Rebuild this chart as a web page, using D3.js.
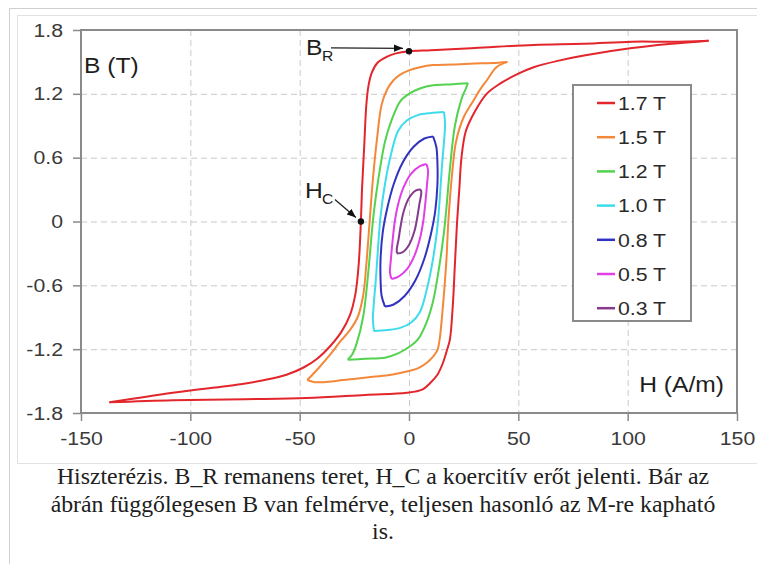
<!DOCTYPE html>
<html>
<head>
<meta charset="utf-8">
<script src="https://cdn.jsdelivr.net/npm/d3@7"></script>
<style>
  body { margin: 0; background: #fff; }
  svg { display: block; }
</style>
</head>
<body>
<div id="chart"></div>
<script>
// Data: H (A/m), B (T)
const seriesNames = ["1.7 T", "1.5 T", "1.2 T", "1.0 T", "0.8 T", "0.5 T", "0.3 T"];
const seriesColors = ["#e2262c", "#f4883a", "#52d24e", "#3edcea", "#3232c0", "#e040e6", "#853a8c"];

const xTicks = [-150, -100, -50, 0, 50, 100, 150];
const xTickLabels = ["-150", "-100", "-50", "0", "50", "100", "150"];
const yTicks = [-1.8, -1.2, -0.6, 0, 0.6, 1.2, 1.8];
const yTickLabels = ["-1.8", "-1.2", "-0.6", "0", "0.6", "1.2", "1.8"];

// descending branch (from + tip) and ascending branch (from - tip) of each loop
const loop17Desc = [[137, 1.70], [120, 1.69], [102, 1.69], [80, 1.67], [57, 1.66], [30, 1.63], [10, 1.61], [0, 1.60], [-6, 1.58], [-10, 1.55], [-14.5, 1.49], [-17, 1.40], [-18.5, 1.28], [-19.5, 1.10], [-20.5, 0.70], [-21.5, 0.30], [-22, 0], [-23, -0.40], [-24.5, -0.68], [-27, -0.88], [-31, -1.04], [-36, -1.17], [-42, -1.29], [-48, -1.37], [-56, -1.44], [-66, -1.49], [-77, -1.53], [-108, -1.61], [-137, -1.70]];
const loop17Asc = [[-137, -1.70], [-108, -1.68], [-75, -1.67], [-47, -1.66], [-20, -1.63], [-1, -1.61], [6, -1.58], [9.6, -1.52], [13, -1.44], [15.5, -1.33], [17.5, -1.20], [18.7, -1.11], [20, -0.80], [21, -0.40], [22, 0], [23, 0.30], [24, 0.60], [26, 0.85], [30, 1.03], [35.5, 1.20], [42, 1.30], [50, 1.39], [57, 1.45], [68, 1.51], [80, 1.56], [102, 1.63], [120, 1.67], [137, 1.70]];

const loop15Desc = [[45, 1.50], [38, 1.49], [30, 1.485], [20, 1.475], [11, 1.47], [5, 1.45], [0, 1.42], [-4, 1.38], [-7, 1.33], [-10, 1.24], [-12.5, 1.10], [-14.5, 0.80], [-16.5, 0.40], [-18, 0], [-19.5, -0.40], [-21, -0.70], [-23.5, -0.90], [-27, -1.02], [-31.5, -1.13], [-36, -1.25], [-41, -1.37], [-46.5, -1.49]];
const loop15Asc = [[-46.5, -1.49], [-43, -1.51], [-39, -1.51], [-30, -1.49], [-16.5, -1.46], [-8, -1.44], [-1, -1.41], [4, -1.38], [8, -1.33], [11, -1.27], [13, -1.21], [14, -1.11], [15.5, -0.80], [17, -0.40], [18, 0], [19.5, 0.40], [21.5, 0.75], [25, 0.98], [29, 1.12], [32.5, 1.24], [35.7, 1.33], [40, 1.45], [45, 1.50]];

const loop12Desc = [[27, 1.30], [20, 1.29], [11, 1.28], [5, 1.25], [0, 1.20], [-4, 1.13], [-8, 0.95], [-11, 0.75], [-14, 0.40], [-16, 0.10], [-17, -0.10], [-18.5, -0.45], [-21, -0.90], [-24, -1.15], [-26, -1.25], [-28, -1.30]];
const loop12Asc = [[-28, -1.30], [-20, -1.29], [-11, -1.28], [-5, -1.24], [0, -1.18], [4, -1.11], [8, -0.95], [11, -0.75], [14, -0.40], [16, -0.10], [17, 0.10], [18.5, 0.45], [21, 0.90], [24, 1.15], [26, 1.25], [27, 1.30]];

const loop10Desc = [[16, 1.03], [10, 1.02], [4, 1.00], [-1, 0.95], [-5, 0.85], [-8, 0.65], [-11, 0.35], [-13, 0.05], [-14, -0.20], [-15, -0.50], [-16, -0.75], [-16.5, -0.92], [-16, -1.03]];
const loop10Asc = [[-16, -1.03], [-10, -1.02], [-4, -1.00], [1, -0.95], [5, -0.85], [8, -0.65], [11, -0.35], [13, -0.05], [14, 0.20], [15, 0.50], [16, 0.75], [16.5, 0.92], [16, 1.03]];

const loop08Desc = [[11, 0.80], [7, 0.78], [2, 0.70], [-3, 0.55], [-7, 0.35], [-10, 0.12], [-12, -0.10], [-13, -0.35], [-13, -0.55], [-12.5, -0.70], [-11, -0.80]];
const loop08Asc = [[-11, -0.80], [-7, -0.78], [-2, -0.70], [3, -0.55], [7, -0.35], [10, -0.12], [12, 0.10], [13, 0.35], [13, 0.55], [12.5, 0.70], [11, 0.80]];

const loop05Desc = [[8, 0.54], [5, 0.52], [1, 0.45], [-2.5, 0.32], [-5, 0.16], [-6.5, 0], [-7.5, -0.18], [-8.3, -0.36], [-8.7, -0.48], [-8, -0.54]];
const loop05Asc = [[-8, -0.54], [-5, -0.52], [-1, -0.45], [2.5, -0.32], [5, -0.16], [6.5, 0], [7.5, 0.18], [8.3, 0.36], [8.7, 0.48], [8, 0.54]];

const loop03Desc = [[5.5, 0.30], [3, 0.29], [0, 0.22], [-2.5, 0.09], [-3.8, -0.04], [-4.8, -0.17], [-5.6, -0.26], [-5.5, -0.30]];
const loop03Asc = [[-5.5, -0.30], [-3, -0.29], [0, -0.22], [2.5, -0.09], [3.8, 0.04], [4.8, 0.17], [5.6, 0.26], [5.5, 0.30]];

const remanencePoint = [0, 1.6];
const coercivePoint = [-22, 0];

const captionLines = [
  "Hiszterézis. B_R remanens teret, H_C a koercitív erőt jelenti. Bár az",
  "ábrán függőlegesen B van felmérve, teljesen hasonló az M-re kapható",
  "is."
];

const loops = [
  [loop17Desc, loop17Asc], [loop15Desc, loop15Asc], [loop12Desc, loop12Asc],
  [loop10Desc, loop10Asc], [loop08Desc, loop08Asc], [loop05Desc, loop05Asc],
  [loop03Desc, loop03Asc]
].map((b, i) => ({ name: seriesNames[i], color: seriesColors[i], branches: b }));

// layout
const width = 757, height = 564;
const plot = { left: 81, right: 737, top: 30, bottom: 413 };
const stretch = 1.12; // the source text is a little wide
const sans = "'Liberation Sans', Arial, sans-serif";

const svg = d3.select("#chart").append("svg")
  .attr("width", width).attr("height", height);

// thumbnail frames
svg.append("path").attr("d", `M9.5,${height} V8.5 H${width}`)
  .attr("fill", "none").attr("stroke", "#cfcfcf");
svg.append("rect").attr("x", 17.5).attr("y", 15.5).attr("width", 760).attr("height", 448)
  .attr("fill", "none").attr("stroke", "#e2e2e2");

const x = d3.scaleLinear().domain([-150, 150]).range([plot.left, plot.right]);
const y = d3.scaleLinear().domain([-1.8, 1.8]).range([plot.bottom, plot.top]);

// grid
const grid = svg.append("g").attr("stroke", "#c9c9c9").attr("stroke-dasharray", "6,4");
grid.selectAll(".gy").data(yTicks.slice(1, -1)).enter().append("line")
  .attr("x1", plot.left).attr("x2", plot.right)
  .attr("y1", (d) => y(d) + 0.5).attr("y2", (d) => y(d) + 0.5);
grid.selectAll(".gx").data(xTicks.slice(1, -1)).enter().append("line")
  .attr("y1", plot.top).attr("y2", plot.bottom)
  .attr("x1", (d) => x(d) + 0.5).attr("x2", (d) => x(d) + 0.5);

// axes
function styleAxis(g) {
  g.select(".domain").remove();
  g.selectAll(".tick line").attr("stroke", "#8a8a8a").attr("stroke-width", 1.5);
  g.selectAll(".tick text")
    .attr("fill", "#3a3a3a")
    .style("font-family", sans).style("font-size", "19px")
    .attr("transform", function () {
      const tx = +this.getAttribute("x") || 0;
      return `translate(${tx},0) scale(${stretch},1)`;
    })
    .attr("x", 0);
}

svg.append("g")
  .attr("transform", `translate(${plot.left},0)`)
  .call(d3.axisLeft(y).tickValues(yTicks).tickFormat((d, i) => yTickLabels[i]).tickSize(8).tickPadding(10))
  .call(styleAxis);

svg.append("g")
  .attr("transform", `translate(0,${plot.bottom})`)
  .call(d3.axisBottom(x).tickValues(xTicks).tickFormat((d, i) => xTickLabels[i]).tickSize(8).tickPadding(11))
  .call(styleAxis);

svg.append("rect")
  .attr("x", plot.left).attr("y", plot.top)
  .attr("width", plot.right - plot.left).attr("height", plot.bottom - plot.top)
  .attr("fill", "none").attr("stroke", "#8a8a8a").attr("stroke-width", 2);

// loops
const line = d3.line()
  .x((d) => x(d[0]))
  .y((d) => y(d[1]))
  .curve(d3.curveCatmullRom.alpha(0.5));

const loopG = svg.append("g").attr("fill", "none").attr("stroke-width", 2);
loops.forEach((l) => {
  loopG.selectAll(null).data(l.branches).enter().append("path")
    .attr("d", line)
    .attr("stroke", l.color)
    .attr("stroke-linejoin", "round");
});

// axis titles
function stretchedText(g, tx, ty, txt, size, anchor) {
  return g.append("text")
    .attr("transform", `translate(${tx},${ty}) scale(${stretch},1)`)
    .attr("text-anchor", anchor || "start")
    .style("font-family", sans).style("font-size", size + "px")
    .attr("fill", "#1e1e1e")
    .text(txt);
}
stretchedText(svg, plot.left + 3, 73, "B (T)", 22);
stretchedText(svg, plot.right - 13, 392, "H (A/m)", 22, "end");

// annotations
svg.append("defs").append("marker")
  .attr("id", "arr").attr("viewBox", "0 0 10 10")
  .attr("refX", 10).attr("refY", 5)
  .attr("markerWidth", 9).attr("markerHeight", 9)
  .attr("markerUnits", "userSpaceOnUse")
  .attr("orient", "auto")
  .append("path").attr("d", "M0,1 L10,5 L0,9 Z").attr("fill", "#111");

const br = [x(remanencePoint[0]), y(remanencePoint[1])];
svg.append("line")
  .attr("x1", br[0] - 78).attr("y1", br[1] - 3.5)
  .attr("x2", br[0] - 6).attr("y2", br[1] - 3)
  .attr("stroke", "#222").attr("stroke-width", 1.3)
  .attr("marker-end", "url(#arr)");
stretchedText(svg, br[0] - 103, br[1] + 4, "B", 22);
stretchedText(svg, br[0] - 87, br[1] + 10, "R", 14);
svg.append("circle").attr("cx", br[0]).attr("cy", br[1]).attr("r", 3.2).attr("fill", "#111");

const hc = [x(coercivePoint[0]), y(coercivePoint[1])];
svg.append("line")
  .attr("x1", hc[0] - 26).attr("y1", hc[1] - 22)
  .attr("x2", hc[0] - 5).attr("y2", hc[1] - 4)
  .attr("stroke", "#222").attr("stroke-width", 1.3)
  .attr("marker-end", "url(#arr)");
stretchedText(svg, hc[0] - 56, hc[1] - 24, "H", 22);
stretchedText(svg, hc[0] - 39, hc[1] - 18, "C", 14);
svg.append("circle").attr("cx", hc[0]).attr("cy", hc[1]).attr("r", 3.2).attr("fill", "#111");

// legend
const legend = svg.append("g");
legend.append("rect")
  .attr("x", 573).attr("y", 85).attr("width", 118).attr("height", 236)
  .attr("fill", "#fff").attr("stroke", "#8a8a8a").attr("stroke-width", 2);
const items = legend.selectAll(".item").data(loops).enter().append("g")
  .attr("transform", (d, i) => `translate(597,${103 + i * 34.2})`);
items.append("line").attr("x1", 0).attr("x2", 18)
  .attr("stroke", (d) => d.color).attr("stroke-width", 2.5);
items.append("text")
  .attr("transform", `translate(21,0) scale(${stretch},1)`)
  .attr("dy", "0.36em")
  .style("font-family", sans).style("font-size", "19px")
  .attr("fill", "#2a2a2a")
  .text((d) => d.name);

// caption
svg.append("g").selectAll("text").data(captionLines).enter().append("text")
  .attr("x", 383).attr("y", (d, i) => 484 + i * 27.5)
  .attr("text-anchor", "middle")
  .style("font-family", "'Liberation Serif', 'Times New Roman', serif")
  .style("font-size", "23.8px")
  .attr("fill", "#202020")
  .text((d) => d);
</script>
</body>
</html>
